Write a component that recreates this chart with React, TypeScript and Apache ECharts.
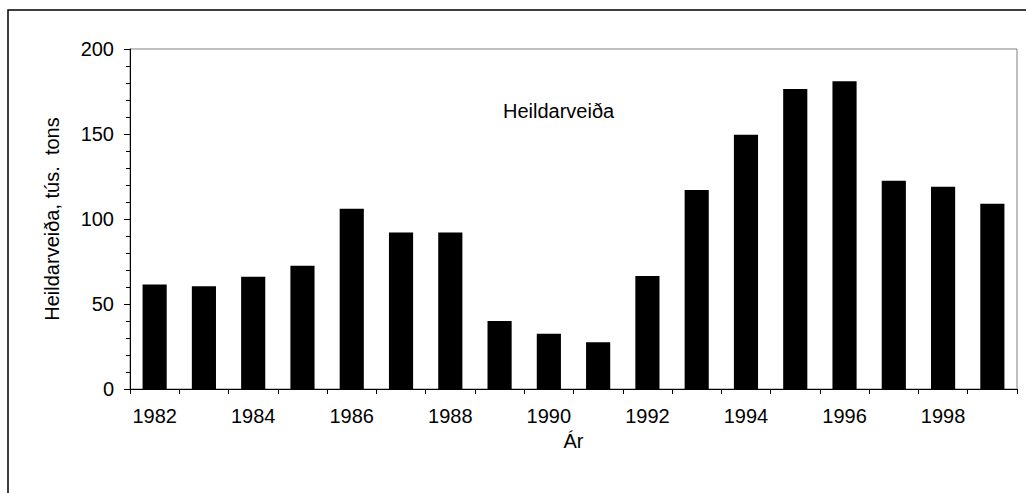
import React, { useEffect, useRef } from "react";
import * as echarts from "echarts";

const years = ["1982","1983","1984","1985","1986","1987","1988","1989","1990","1991","1992","1993","1994","1995","1996","1997","1998","1999"];
const catch_ = [61.5, 60.5, 66, 72.5, 106, 92, 92, 40, 32.5, 27.5, 66.5, 117, 149.5, 176.5, 181, 122.5, 119, 109];
const yTicks = { min: 0, max: 200, interval: 50 };
const seriesLabel = "Heildarveiða";
const yName = "Heildarveiða, tús.\u00a0\u00a0tons";
const xName = "Ár";

export default function App() {
  const ref = useRef<HTMLDivElement>(null);
  useEffect(() => {
    if (!ref.current) return;
    const chart = echarts.init(ref.current, null, { renderer: "svg" });
    const font = "Liberation Sans, Arial, sans-serif";
    chart.setOption({
      animation: false,
      backgroundColor: "#fff",
      grid: { left: 130, right: 9, top: 49, bottom: 104, show: true, borderColor: "#808080", borderWidth: 1 },
      graphic: [
        { type: "rect", shape: { x: 8, y: 10, width: 1040, height: 500 }, style: { fill: "none", stroke: "#000", lineWidth: 1.5 }, silent: true },
        { type: "text", x: 503, y: 111, style: { text: seriesLabel, fontSize: 20, fontFamily: font, fill: "#000", verticalAlign: "middle" } },
      ],
      xAxis: {
        type: "category",
        data: years,
        boundaryGap: true,
        name: xName,
        nameLocation: "middle",
        nameGap: 34,
        nameTextStyle: { fontSize: 20, fontFamily: font, color: "#000" },
        axisLine: { lineStyle: { color: "#000", width: 1 } },
        axisTick: { show: true, interval: 0, length: 5, lineStyle: { color: "#000" } },
        axisLabel: { interval: 1, fontSize: 20, fontFamily: font, color: "#000", margin: 17 },
      },
      yAxis: {
        type: "value",
        min: yTicks.min,
        max: yTicks.max,
        interval: yTicks.interval,
        name: yName,
        nameLocation: "middle",
        nameGap: 68,
        nameTextStyle: { fontSize: 20, fontFamily: font, color: "#000" },
        axisLine: { show: true, lineStyle: { color: "#000", width: 1 } },
        axisTick: { show: true, length: 6, lineStyle: { color: "#000" } },
        minorTick: { show: true, splitNumber: 5, length: 4, lineStyle: { color: "#000" } },
        splitLine: { show: false },
        axisLabel: { fontSize: 20, fontFamily: font, color: "#000", margin: 16 },
      },
      series: [
        {
          type: "bar",
          data: catch_,
          barCategoryGap: "51%",
          itemStyle: { color: "#000" },
        },
      ],
    });
    return () => chart.dispose();
  }, []);
  return <div ref={ref} style={{ position: "fixed", left: 0, top: 0, width: 1026, height: 493 }} />;
}
